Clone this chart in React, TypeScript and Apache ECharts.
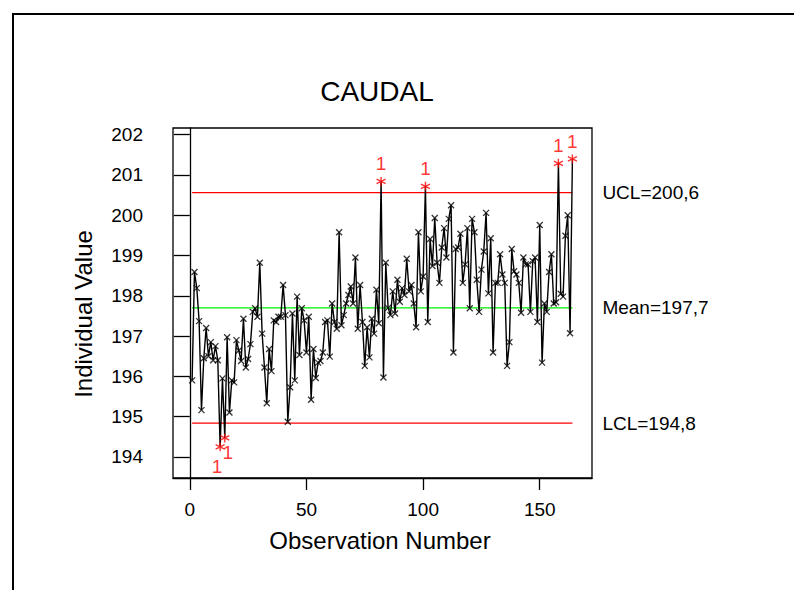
import React, { useEffect, useRef } from "react";
import * as echarts from "echarts";

// Individual observations (CAUDAL), observation 1..164
const obsValues: number[] = [
  195.9, 198.59, 198.19, 197.37, 195.16, 196.45, 197.2, 196.5, 196.85, 196.4,
  196.75, 196.4, 194.25, 195.95, 194.47, 196.97, 195.1, 195.9, 195.85, 196.9,
  196.64, 196.38, 197.43, 196.22, 196.43, 196.8, 197.6, 197.69, 197.48, 198.82,
  197.06, 196.22, 195.33, 196.68, 196.13, 197.39, 197.35, 197.48, 197.48, 198.27,
  197.52, 194.87, 195.73, 197.56, 195.9, 197.98, 196.53, 197.69, 197.39, 196.59,
  197.48, 195.42, 196.68, 195.96, 196.34, 196.38, 196.59, 197.35, 197.39, 196.49,
  197.81, 197.35, 197.18, 199.58, 197.27, 197.52, 197.81, 198.02, 198.23, 197.81,
  198.95, 197.18, 198.27, 197.35, 196.26, 197.22, 196.47, 197.43, 197.06, 198.15,
  197.32, 200.84, 195.97, 198.82, 197.7, 197.52, 198.11, 197.56, 198.4, 197.85,
  198.19, 198.02, 198.92, 198.11, 198.27, 197.81, 197.22, 199.58, 198.11, 198.48,
  200.72, 197.35, 199.41, 198.74, 199.93, 198.82, 198.32, 199.2, 199.68, 198.95,
  199.91, 200.25, 196.59, 199.16, 199.2, 199.54, 198.32, 198.78, 199.68, 197.69,
  199.91, 199.58, 198.4, 197.6, 198.65, 199.1, 200.06, 198.06, 199.43, 196.59,
  198.32, 198.32, 199.03, 198.53, 198.32, 196.26, 196.85, 199.16, 198.61, 198.53,
  198.32, 197.58, 198.95, 198.78, 198.78, 197.6, 198.86, 198.95, 197.35, 199.76,
  196.34, 197.81, 197.6, 198.59, 199.03, 197.81, 197.84, 201.29, 198.05, 197.98,
  199.49, 200.0, 197.07, 201.4,
];

const controlValues: number[] = [200.56, 197.7, 194.84]; // UCL, Mean, LCL
const controlLabels: string[] = ["UCL=200,6", "Mean=197,7", "LCL=194,8"];
const controlColors: string[] = ["#ff0000", "#00ee00", "#ff0000"];
const xTicks: number[] = [0, 50, 100, 150];
const yTicks: number[] = [194, 195, 196, 197, 198, 199, 200, 201, 202];
const flagLabel = "1";

const FONT = "'Liberation Sans', Arial, sans-serif";
const X_SYMBOL = "path://M0,0L10,10M10,0L0,10";
const STAR_SYMBOL = "path://M5,0L5,10M0.67,2.5L9.33,7.5M9.33,2.5L0.67,7.5";

export default function App() {
  const ref = useRef<HTMLDivElement>(null);

  useEffect(() => {
    if (!ref.current) return;
    const chart = echarts.init(ref.current, undefined, { renderer: "svg" });
    const ucl = controlValues[0];
    const lcl = controlValues[2];
    const n = obsValues.length;
    const pts = obsValues.map((v, i) => [i + 1, v]);
    const normal = pts.filter((p) => p[1] <= ucl && p[1] >= lcl);
    const lowFlags = pts.filter((p) => p[1] < lcl);
    const flagged = pts
      .filter((p) => p[1] > ucl || p[1] < lcl)
      .map((p) => {
        const low = p[1] < lcl;
        const li = lowFlags.indexOf(p);
        let offset = [0, 0];
        if (low && lowFlags.length > 1) {
          offset = li === 0 ? [-3, 2] : [3, -3];
        }
        return {
          value: p,
          label: { position: low ? "bottom" : "top", offset },
        };
      });

    const controlSeries = controlValues.map((cv, k) => ({
      type: "line",
      name: controlLabels[k],
      data: [
        [1, cv],
        [n, cv],
      ],
      symbol: "none",
      silent: true,
      lineStyle: { color: controlColors[k], width: 1.2 },
      itemStyle: { color: controlColors[k] },
      endLabel: {
        show: true,
        formatter: controlLabels[k],
        distance: 30,
        color: "#000",
        fontSize: 19,
        fontFamily: FONT,
      },
      z: 1,
    }));

    chart.setOption({
      animation: false,
      backgroundColor: "#fff",
      grid: {
        left: 173,
        top: 128,
        width: 419,
        height: 350,
        show: true,
        borderColor: "#000",
        borderWidth: 1.3,
        backgroundColor: "transparent",
      },
      xAxis: {
        type: "value",
        min: -7.2,
        max: 172.4,
        splitLine: { show: false },
        axisLine: { show: true, lineStyle: { color: "#000", width: 1.3 } },
        axisTick: {
          show: true,
          length: 12,
          customValues: xTicks,
          lineStyle: { color: "#000", width: 1.3 },
        },
        axisLabel: {
          customValues: xTicks,
          margin: 22,
          color: "#000",
          fontSize: 19,
          fontFamily: FONT,
        },
      },
      yAxis: {
        type: "value",
        min: 193.475,
        max: 202.167,
        splitLine: { show: false },
        axisLine: { show: true, lineStyle: { color: "#000", width: 1.3 } },
        axisTick: {
          show: true,
          length: 16,
          customValues: yTicks,
          lineStyle: { color: "#000", width: 1.3 },
        },
        axisLabel: {
          customValues: yTicks,
          margin: 30,
          color: "#000",
          fontSize: 19,
          fontFamily: FONT,
        },
      },
      graphic: [
        {
          type: "rect",
          shape: { x: 13, y: 14, width: 1000, height: 1000 },
          style: { fill: "none", stroke: "#000", lineWidth: 2 },
          silent: true,
          z: -10,
        },
        {
          type: "text",
          x: 377,
          y: 91,
          style: {
            text: "CAUDAL",
            font: `28px ${FONT}`,
            fill: "#000",
            textAlign: "center",
            textVerticalAlign: "middle",
          },
        },
        {
          type: "text",
          x: 380,
          y: 540,
          style: {
            text: "Observation Number",
            font: `24px ${FONT}`,
            fill: "#000",
            textAlign: "center",
            textVerticalAlign: "middle",
          },
        },
        {
          type: "text",
          x: 83,
          y: 314,
          rotation: Math.PI / 2,
          style: {
            text: "Individual Value",
            font: `24px ${FONT}`,
            fill: "#000",
            textAlign: "center",
            textVerticalAlign: "middle",
          },
        },
      ],
      series: [
        ...controlSeries,
        {
          type: "line",
          data: pts,
          symbol: "none",
          silent: true,
          lineStyle: { color: "#000", width: 1.4 },
          itemStyle: { color: "#000" },
          z: 2,
        },
        {
          type: "scatter",
          data: normal,
          symbol: X_SYMBOL,
          symbolSize: 6,
          silent: true,
          itemStyle: { color: "#000", borderColor: "#000", borderWidth: 1.3 },
          z: 3,
        },
        {
          type: "scatter",
          data: flagged,
          symbol: STAR_SYMBOL,
          symbolSize: 9,
          silent: true,
          itemStyle: { color: "#ff0000", borderColor: "#ff0000", borderWidth: 1.4 },
          label: {
            show: true,
            formatter: flagLabel,
            distance: 3,
            color: "#ff0000",
            fontSize: 19,
            fontFamily: FONT,
          },
          z: 4,
        },
      ],
    });
    return () => chart.dispose();
  }, []);

  return (
    <div
      ref={ref}
      style={{ position: "fixed", left: 0, top: 0, width: 794, height: 590 }}
    />
  );
}
